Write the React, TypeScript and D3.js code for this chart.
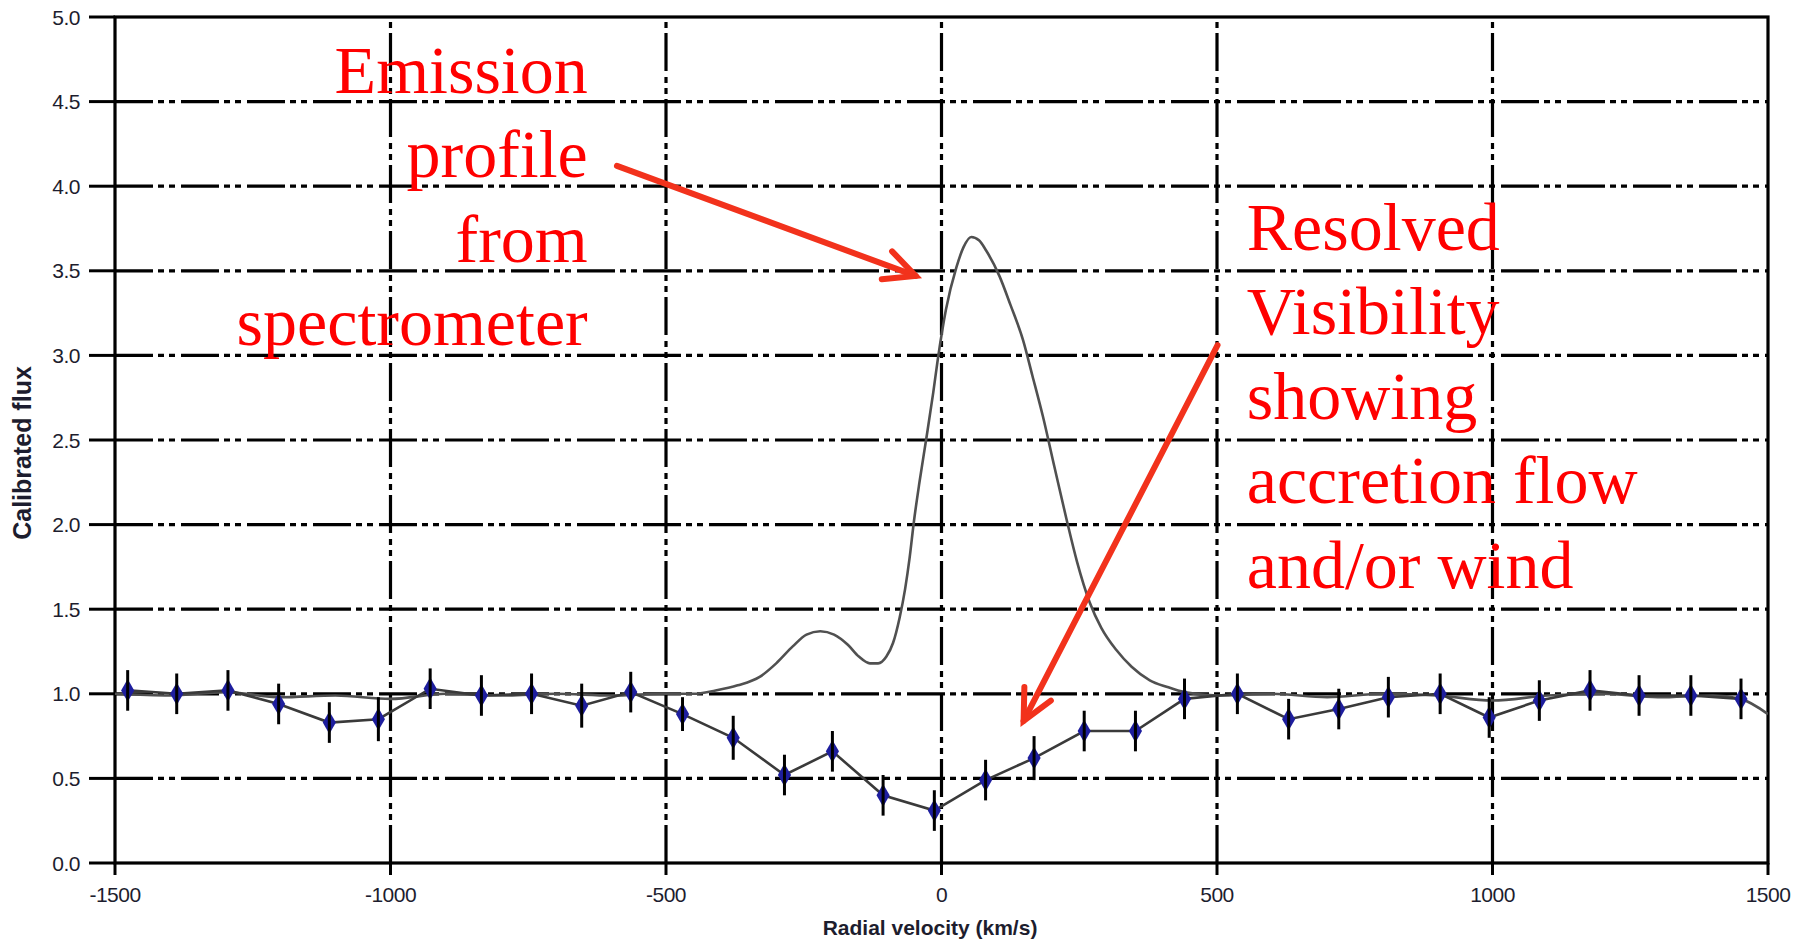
import React from 'react';
import * as d3 from 'd3';

const W = 1804;
const H = 945;

const xTickValues = [-1500, -1000, -500, 0, 500, 1000, 1500];
const xTickLabels = ['-1500', '-1000', '-500', '0', '500', '1000', '1500'];
const yTickValues = [0, 0.5, 1, 1.5, 2, 2.5, 3, 3.5, 4, 4.5, 5];
const yTickLabels = ['0.0', '0.5', '1.0', '1.5', '2.0', '2.5', '3.0', '3.5', '4.0', '4.5', '5.0'];

// Resolved visibility (points with error bars)
const visVelocity = [-1477, -1388, -1295, -1203, -1111, -1022, -928, -835, -744, -653, -564, -470, -378, -285, -198, -106, -13, 80, 168, 259, 352, 441, 537, 630, 721, 811, 905, 994, 1085, 1177, 1266, 1360, 1451];
const visValue = [1.02, 1.0, 1.02, 0.94, 0.83, 0.85, 1.03, 0.99, 1.0, 0.93, 1.01, 0.88, 0.74, 0.52, 0.66, 0.4, 0.31, 0.49, 0.62, 0.78, 0.78, 0.97, 1.0, 0.85, 0.91, 0.98, 1.0, 0.86, 0.96, 1.02, 0.99, 0.99, 0.97];
const visError = [0.12, 0.12, 0.12, 0.12, 0.12, 0.13, 0.12, 0.12, 0.12, 0.13, 0.12, 0.1, 0.13, 0.12, 0.12, 0.12, 0.12, 0.12, 0.13, 0.12, 0.12, 0.12, 0.12, 0.12, 0.12, 0.12, 0.12, 0.12, 0.12, 0.12, 0.12, 0.12, 0.12];

// Emission profile from spectrometer
const emisVelocity = [-1500, -1400, -1300, -1200, -1100, -1000, -900, -800, -700, -600, -500, -450, -410, -370, -330, -300, -270, -245, -220, -195, -170, -150, -130, -115, -100, -88, -76, -66, -58, -50, -40, -28, -15, -7, 8, 27, 40, 54, 68, 81, 105, 125, 148, 165, 184, 205, 227, 246, 269, 290, 317, 345, 378, 410, 440, 500, 600, 700, 800, 900, 1000, 1100, 1200, 1300, 1400, 1450, 1500];
const emisFlux = [1.0, 0.99, 1.01, 0.98, 0.99, 0.97, 1.0, 0.99, 1.0, 0.99, 1.0, 1.0, 1.02, 1.05, 1.1, 1.18, 1.28, 1.35, 1.37, 1.35, 1.29, 1.22, 1.18, 1.18, 1.22, 1.3, 1.45, 1.62, 1.8, 2.02, 2.25, 2.5, 2.78, 2.97, 3.27, 3.52, 3.64, 3.7, 3.68, 3.62, 3.47, 3.3, 3.09, 2.88, 2.64, 2.34, 2.03, 1.78, 1.54, 1.39, 1.26, 1.16, 1.08, 1.04, 1.01, 0.99, 1.0, 0.98, 1.0, 0.99, 0.96, 0.99, 1.0, 0.98, 0.99, 0.97, 0.88];

// Annotations (data coordinates)
const leftNoteLines = ['Emission', 'profile', 'from', 'spectrometer'];
const leftNoteX = -642;
const leftNoteY = [4.55, 4.054, 3.552, 3.06];
const rightNoteLines = ['Resolved', 'Visibility', 'showing', 'accretion flow', 'and/or wind'];
const rightNoteX = 554;
const rightNoteY = [3.623, 3.126, 2.624, 2.128, 1.625];
const arrowTail = [[-589, 4.12], [501, 3.06]];
const arrowTip = [[-47, 3.47], [149, 0.84]];

const PLOT = { left: 115, right: 1768, top: 17, bottom: 863 };
const DASH = '38 5 6 5 6 6';

export default function App() {
  const x = d3.scaleLinear().domain([-1500, 1500]).range([PLOT.left, PLOT.right]);
  const y = d3.scaleLinear().domain([0, 5]).range([PLOT.bottom, PLOT.top]);

  const emisLine = d3
    .line<number>()
    .x((_, i) => x(emisVelocity[i]))
    .y((d) => y(d))
    .curve(d3.curveMonotoneX)(emisFlux) as string;

  const visLine = d3
    .line<number>()
    .x((_, i) => x(visVelocity[i]))
    .y((d) => y(d))(visValue) as string;

  const diamond = d3.symbol().type(d3.symbolDiamond).size(150)() as string;

  const arrowPaths = arrowTail.map((t, k) => {
    const x0 = x(t[0]);
    const y0 = y(t[1]);
    const x1 = x(arrowTip[k][0]);
    const y1 = y(arrowTip[k][1]);
    const ang = Math.atan2(y0 - y1, x0 - x1);
    const L = 34;
    const a = (26 * Math.PI) / 180;
    const b1 = [x1 + L * Math.cos(ang + a), y1 + L * Math.sin(ang + a)];
    const b2 = [x1 + L * Math.cos(ang - a), y1 + L * Math.sin(ang - a)];
    return {
      shaft: `M${x0},${y0}L${x1},${y1}`,
      head: `M${b1[0]},${b1[1]}L${x1},${y1}L${b2[0]},${b2[1]}`,
    };
  });

  const gridY = yTickValues.filter((v) => v > 0 && v < 5);
  const gridX = xTickValues.filter((v) => v > -1500 && v < 1500);

  return (
    <svg
      width={W}
      height={H}
      style={{ position: 'absolute', left: 0, top: 0, background: '#fff' }}
    >
      <rect x={0} y={0} width={W} height={H} fill="#fff" />
      <defs>
        <clipPath id="plotClip">
          <rect x={PLOT.left} y={PLOT.top} width={PLOT.right - PLOT.left} height={PLOT.bottom - PLOT.top} />
        </clipPath>
      </defs>

      {/* grid */}
      <g stroke="#000" strokeWidth={3.2} strokeDasharray={DASH} fill="none">
        {gridY.map((v) => (
          <line key={'gy' + v} x1={PLOT.left} x2={PLOT.right} y1={y(v)} y2={y(v)} />
        ))}
        {gridX.map((v) => (
          <line key={'gx' + v} x1={x(v)} x2={x(v)} y1={PLOT.bottom} y2={PLOT.top} />
        ))}
      </g>

      {/* ticks */}
      <g stroke="#000" strokeWidth={3}>
        {yTickValues.map((v) => (
          <line key={'yt' + v} x1={PLOT.left - 26} x2={PLOT.left} y1={y(v)} y2={y(v)} />
        ))}
        {xTickValues.map((v) => (
          <line key={'xt' + v} x1={x(v)} x2={x(v)} y1={PLOT.bottom} y2={PLOT.bottom + 12} />
        ))}
      </g>

      {/* frame */}
      <rect
        x={PLOT.left}
        y={PLOT.top}
        width={PLOT.right - PLOT.left}
        height={PLOT.bottom - PLOT.top}
        fill="none"
        stroke="#000"
        strokeWidth={3.2}
      />

      {/* tick labels */}
      <g fontFamily="'Liberation Sans', Arial, sans-serif" fontSize={21} fill="#1d1d2e">
        {yTickValues.map((v, i) => (
          <text key={'yl' + v} x={80} y={y(v)} textAnchor="end" dominantBaseline="central" letterSpacing={-0.5}>
            {yTickLabels[i]}
          </text>
        ))}
        {xTickValues.map((v, i) => (
          <text key={'xl' + v} x={x(v)} y={902} textAnchor="middle" letterSpacing={-0.5}>
            {xTickLabels[i]}
          </text>
        ))}
      </g>

      {/* axis titles */}
      <text
        x={930}
        y={935}
        textAnchor="middle"
        fontFamily="'Liberation Sans', Arial, sans-serif"
        fontWeight="bold"
        fontSize={21}
        fill="#1d1d2e"
      >
        Radial velocity (km/s)
      </text>
      <text
        transform={`translate(31,453) rotate(-90)`}
        textAnchor="middle"
        fontFamily="'Liberation Sans', Arial, sans-serif"
        fontWeight="bold"
        fontSize={25}
        fill="#1d1d2e"
      >
        Calibrated flux
      </text>

      {/* data */}
      <g clipPath="url(#plotClip)">
        <path d={emisLine} fill="none" stroke="#505050" strokeWidth={2.6} />
        <path d={visLine} fill="none" stroke="#3a3a3a" strokeWidth={2.6} />
        {visValue.map((v, i) => (
          <path
            key={'m' + i}
            d={diamond}
            transform={`translate(${x(visVelocity[i])},${y(v)})`}
            fill="#1e1e9e"
          />
        ))}
        {visValue.map((v, i) => (
          <line
            key={'e' + i}
            x1={x(visVelocity[i])}
            x2={x(visVelocity[i])}
            y1={y(v - visError[i])}
            y2={y(v + visError[i])}
            stroke="#000"
            strokeWidth={3}
          />
        ))}
      </g>

      {/* annotations */}
      <g fontFamily="'Liberation Serif', 'Times New Roman', serif" fontSize={68} fill="#ff0000">
        {leftNoteLines.map((t, i) => (
          <text key={'ln' + i} x={x(leftNoteX)} y={y(leftNoteY[i])} textAnchor="end">
            {t}
          </text>
        ))}
        {rightNoteLines.map((t, i) => (
          <text key={'rn' + i} x={x(rightNoteX)} y={y(rightNoteY[i])} textAnchor="start">
            {t}
          </text>
        ))}
      </g>
      <g stroke="#f2321c" strokeWidth={6} fill="none" strokeLinecap="round" strokeLinejoin="miter">
        {arrowPaths.map((a, i) => (
          <g key={'ar' + i}>
            <path d={a.shaft} />
            <path d={a.head} />
          </g>
        ))}
      </g>
    </svg>
  );
}
